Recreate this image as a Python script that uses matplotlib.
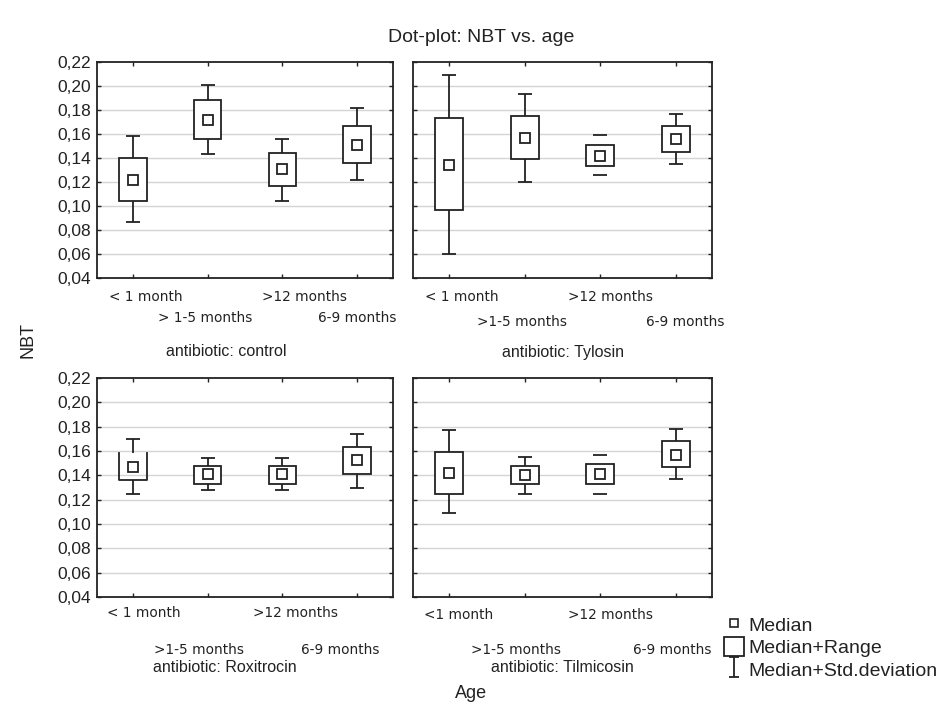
import matplotlib
matplotlib.use("Agg")
import matplotlib.pyplot as plt  # noqa: E402
from matplotlib.lines import Line2D  # noqa: E402
from matplotlib.patches import Rectangle, Patch  # noqa: E402
from matplotlib.path import Path  # noqa: E402
from matplotlib.ticker import FuncFormatter  # noqa: E402

# ---- data (NBT by age group, per antibiotic) ----
age_order = ["<1", ">1-5", ">12", "6-9"]

control_labels = ["< 1 month", "> 1-5 months", ">12 months", "6-9 months"]
control_median = [0.122, 0.172, 0.131, 0.151]
control_range_lo = [0.104, 0.156, 0.117, 0.136]
control_range_hi = [0.140, 0.188, 0.144, 0.167]
control_sd_lo = [0.087, 0.143, 0.104, 0.122]
control_sd_hi = [0.158, 0.201, 0.156, 0.182]

tylosin_labels = ["< 1 month", ">1-5 months", ">12 months", "6-9 months"]
tylosin_median = [0.134, 0.157, 0.142, 0.156]
tylosin_range_lo = [0.097, 0.139, 0.133, 0.145]
tylosin_range_hi = [0.173, 0.175, 0.151, 0.167]
tylosin_sd_lo = [0.060, 0.120, 0.126, 0.135]
tylosin_sd_hi = [0.209, 0.193, 0.159, 0.177]

roxitrocin_labels = ["< 1 month", ">1-5 months", ">12 months", "6-9 months"]
roxitrocin_median = [0.147, 0.141, 0.141, 0.153]
roxitrocin_range_lo = [0.136, 0.133, 0.133, 0.141]
roxitrocin_range_hi = [0.158, 0.148, 0.148, 0.163]
roxitrocin_sd_lo = [0.125, 0.128, 0.128, 0.130]
roxitrocin_sd_hi = [0.170, 0.154, 0.154, 0.174]

tilmicosin_labels = ["<1 month", ">1-5 months", ">12 months", "6-9 months"]
tilmicosin_median = [0.142, 0.140, 0.141, 0.157]
tilmicosin_range_lo = [0.125, 0.133, 0.133, 0.147]
tilmicosin_range_hi = [0.159, 0.148, 0.149, 0.168]
tilmicosin_sd_lo = [0.109, 0.125, 0.125, 0.137]
tilmicosin_sd_hi = [0.177, 0.155, 0.157, 0.178]

y_ticks = [0.04, 0.06, 0.08, 0.10, 0.12, 0.14, 0.16, 0.18, 0.20, 0.22]

W, H = 943, 710
INK = "#222222"
GRID = "#d4d4d4"

panels = [
    # name, labels, series, axes box in pixels (left, top, right, bottom), caption position,
    # x-label offsets (data units) and rows (px below axes)
    dict(name="antibiotic: control", labels=control_labels,
         vals=(control_median, control_range_lo, control_range_hi, control_sd_lo, control_sd_hi),
         box=(97, 62, 393, 278), cap_y=352, cap_x=226,
         offs=[0.17, -0.03, 0.30, 0.0], rows=[19, 40], ylab=True,
         cap_only=[], open_top=[]),
    dict(name="antibiotic: Tylosin", labels=tylosin_labels,
         vals=(tylosin_median, tylosin_range_lo, tylosin_range_hi, tylosin_sd_lo, tylosin_sd_hi),
         box=(413, 62, 712, 278), cap_y=352, cap_x=563,
         offs=[0.16, -0.03, 0.13, 0.12], rows=[19, 44], ylab=False,
         cap_only=[2], open_top=[]),
    dict(name="antibiotic: Roxitrocin", labels=roxitrocin_labels,
         vals=(roxitrocin_median, roxitrocin_range_lo, roxitrocin_range_hi, roxitrocin_sd_lo, roxitrocin_sd_hi),
         box=(97, 378, 393, 597), cap_y=667, cap_x=225,
         offs=[0.15, -0.12, 0.17, -0.22], rows=[16, 53], ylab=True,
         cap_only=[], open_top=[0]),
    dict(name="antibiotic: Tilmicosin", labels=tilmicosin_labels,
         vals=(tilmicosin_median, tilmicosin_range_lo, tilmicosin_range_hi, tilmicosin_sd_lo, tilmicosin_sd_hi),
         box=(413, 378, 712, 597), cap_y=667, cap_x=562,
         offs=[0.13, -0.11, 0.13, -0.05], rows=[18, 53], ylab=False,
         cap_only=[2], open_top=[]),
]

fig = plt.figure(figsize=(W / 100, H / 100), dpi=100)
fig.patch.set_facecolor("white")

box_w = 0.37
cap_w = 0.19
comma = FuncFormatter(lambda v, p: f"{v:.2f}".replace(".", ","))

for p in panels:
    l, t, r, b = p["box"]
    ax = fig.add_axes([l / W, 1 - b / H, (r - l) / W, (b - t) / H])
    ax.set_xlim(-0.48, 3.48)
    ax.set_ylim(0.04, 0.22)
    ax.set_yticks(y_ticks)
    ax.set_xticks(range(len(age_order)))
    ax.set_xticklabels([])
    ax.yaxis.set_major_formatter(comma)
    if not p["ylab"]:
        ax.set_yticklabels([])
    ax.tick_params(direction="in", length=3, width=1, color=INK, top=True, right=True,
                   labelsize=12.5, labelcolor=INK, pad=4)
    for lbl in ax.get_yticklabels():
        lbl.set_fontfamily("Liberation Sans")
    for y in y_ticks[1:-1]:
        ax.axhline(y, color=GRID, lw=1.0, zorder=0)
    for s in ax.spines.values():
        s.set_color(INK)
        s.set_linewidth(1.3)

    med, rlo, rhi, slo, shi = p["vals"]
    for i in range(len(age_order)):
        # std.deviation whiskers
        ax.hlines([slo[i], shi[i]], i - cap_w / 2, i + cap_w / 2, color=INK, lw=1.3, zorder=3)
        if i not in p["cap_only"]:
            ax.vlines(i, rhi[i], shi[i], color=INK, lw=1.3, zorder=3)
            ax.vlines(i, slo[i], rlo[i], color=INK, lw=1.3, zorder=3)
        # range box
        x0, x1 = i - box_w / 2, i + box_w / 2
        if i in p["open_top"]:
            ax.plot([x0, x0, x1, x1], [rhi[i], rlo[i], rlo[i], rhi[i]], color=INK, lw=1.3, zorder=3)
        else:
            ax.add_patch(Rectangle((x0, rlo[i]), box_w, rhi[i] - rlo[i], facecolor="white",
                                   edgecolor=INK, lw=1.3, zorder=3))
        # median
        ax.plot(i, med[i], marker="s", ms=6.5, mfc="white", mec=INK, mew=1.3, zorder=4)

    # staggered age labels under the axis
    for i, lab in enumerate(p["labels"]):
        row = p["rows"][i % 2]
        xf = ax.transData.transform((i + p["offs"][i], 0))[0] / W
        fig.text(xf, 1 - (b + row) / H, lab, ha="center", va="center", fontsize=9.8,
                 family="DejaVu Sans", color=INK)

    fig.text(p["cap_x"] / W, 1 - p["cap_y"] / H, p["name"], ha="center", va="center",
             fontsize=11.5, family="Liberation Sans", color=INK)

fig.text(481 / W, 1 - 37 / H, "Dot-plot: NBT vs. age", ha="center", va="center",
         fontsize=14, family="Liberation Sans", color=INK)
fig.text(471 / W, 1 - 693 / H, "Age", ha="center", va="center",
         fontsize=13, family="Liberation Sans", color=INK)
fig.text(28 / W, 1 - 340 / H, "NBT", ha="center", va="center", rotation=90,
         fontsize=13, family="Liberation Sans", color=INK)

# legend
ibar = Path([(-0.5, 1), (0.5, 1), (0, 1), (0, -1), (-0.5, -1), (0.5, -1)],
            [Path.MOVETO, Path.LINETO, Path.MOVETO, Path.LINETO, Path.MOVETO, Path.LINETO])
handles = [
    Line2D([], [], ls="none", marker="s", ms=6, mfc="white", mec=INK, mew=1.2),
    Patch(facecolor="white", edgecolor=INK, lw=1.3),
    Line2D([], [], ls="none", marker=ibar, ms=14, mec=INK, mew=1.3),
]
leg = fig.legend(handles, ["Median", "Median+Range", "Median+Std.deviation"],
                 loc="upper left", bbox_to_anchor=(724 / W, 1 - 615 / H), frameon=False,
                 handlelength=1.05, handleheight=1.15, handletextpad=0.2, labelspacing=0.1,
                 borderpad=0, borderaxespad=0,
                 prop={"family": "Liberation Sans", "size": 14})
for txt in leg.get_texts():
    txt.set_color(INK)

fig.savefig("out.png", dpi=100, facecolor="white")
